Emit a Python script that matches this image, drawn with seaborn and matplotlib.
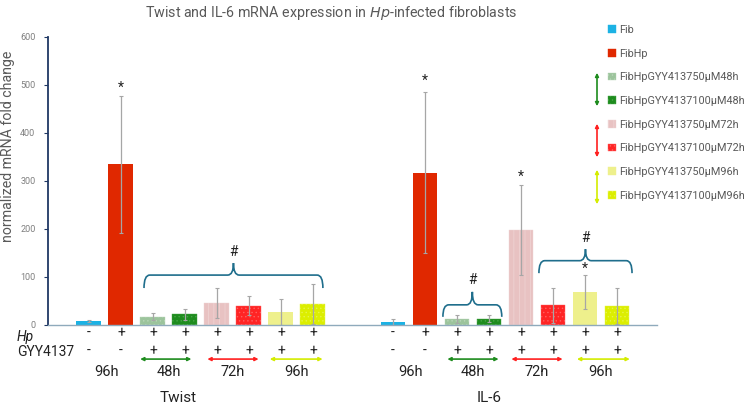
import seaborn as sns
import matplotlib.pyplot as plt
import pandas as pd
from matplotlib.path import Path
from matplotlib.patches import PathPatch, Patch, FancyArrowPatch

# data
genes = ['Twist', 'IL-6']
conditions = ['Fib', 'FibHp',
              'FibHpGYY413750μM48h', 'FibHpGYY4137100μM48h',
              'FibHpGYY413750μM72h', 'FibHpGYY4137100μM72h',
              'FibHpGYY413750μM96h', 'FibHpGYY4137100μM96h']
twist_mean = [9, 335, 17, 22, 46, 40, 27, 44]
twist_err = [2, 143, 7, 11, 31, 20, 27, 41]
il6_mean = [6, 317, 12, 13, 198, 41, 69, 40]
il6_err = [6, 168, 8, 7, 94, 36, 35, 37]
hp_row = ['-', '+', '+', '+', '+', '+', '+', '+']
gyy_row = ['-', '-', '+', '+', '+', '+', '+', '+']
time_labels = ['96h', '48h', '72h', '96h']

colors = ['#1cb2e4', '#e02800', '#9cc49c', '#1e8c1e',
          '#e8c2c2', '#ff2424', '#eef08c', '#dcee00']
hatches = [None, None, '....', '....', '|||', '....', None, '....']
hatch_cols = [None, None, '#b8d6b8', '#46a446', '#f0d6d6', '#ff6060', None, '#e6f44a']

GAP = 9.5
rows = []
for g, (m, e) in enumerate([(twist_mean, twist_err), (il6_mean, il6_err)]):
    for i, c in enumerate(conditions):
        rows.append({'gene': genes[g], 'cond': c, 'pos': i + g * GAP, 'value': m[i], 'err': e[i]})
df = pd.DataFrame(rows)

sns.set_style('white')
plt.rcParams['font.family'] = ['Roboto', 'DejaVu Sans']
plt.rcParams['hatch.linewidth'] = 0.5

fig = plt.figure(figsize=(7.56, 4.08), dpi=100)
ax = fig.add_axes([48 / 756, 83 / 408, 609 / 756, 288 / 408])

sns.barplot(data=df, x='pos', y='value', hue='cond', hue_order=conditions,
            palette=colors, native_scale=True, dodge=False, width=0.78,
            saturation=1, legend=False, ax=ax, errorbar=None)

# patterns
pos2cond = {p: conditions.index(c) for p, c in zip(df['pos'], df['cond'])}
for bar in ax.patches:
    cx = round((bar.get_x() + bar.get_width() / 2) * 2) / 2
    k = pos2cond.get(cx)
    if k is None:
        continue
    if hatches[k]:
        bar.set_hatch(hatches[k])
        bar.set_edgecolor(hatch_cols[k])
        bar.set_linewidth(0.3)
    else:
        bar.set_linewidth(0)

ax.errorbar(df['pos'], df['value'], yerr=df['err'], fmt='none',
            ecolor='#a6a6a6', elinewidth=0.9, capsize=1.5, capthick=0.8)

ax.set_xlim(-1.28, 17.75)
ax.set_ylim(0, 600)
ax.set_yticks(range(0, 601, 100))
ax.set_xticks([])
ax.set_xlabel('')
ax.set_ylabel('normalized mRNA fold change', fontsize=10.2, color='#595959')
ax.yaxis.set_label_coords(-0.055, 0.62)
ax.tick_params(axis='y', labelsize=6.5, labelcolor='#7f7f7f', length=3, width=0.8,
               color='#203864', left=True, pad=6)
for s in ['top', 'right']:
    ax.spines[s].set_visible(False)
ax.spines['left'].set_color('#203864')
ax.spines['left'].set_linewidth(1.3)
ax.spines['bottom'].set_color('#8faabc')
ax.spines['bottom'].set_linewidth(1.0)

fig.text(331 / 756, 1 - 13 / 408, 'Twist and IL-6 mRNA expression in $\\it{Hp}$-infected fibroblasts',
         ha='center', va='center', fontsize=10.3, color='#595959')

# significance marks
star_kw = dict(ha='center', va='center', fontsize=10, color='#222222')
for x, y in [(1, 495), (1 + GAP, 508), (4 + GAP, 308), (6 + GAP, 118)]:
    ax.text(x, y, '*', **star_kw)


def brace(x0, x1, y_end, y_line, y_peak, r=0.18):
    xm = (x0 + x1) / 2
    verts = [(x0, y_end), (x0, y_line), (x0 + r, y_line), (xm - r, y_line), (xm, y_line),
             (xm, y_peak), (xm, y_line), (xm + r, y_line), (x1 - r, y_line), (x1, y_line), (x1, y_end)]
    codes = [Path.MOVETO, Path.CURVE3, Path.CURVE3, Path.LINETO, Path.CURVE3, Path.CURVE3,
             Path.CURVE3, Path.CURVE3, Path.LINETO, Path.CURVE3, Path.CURVE3]
    ax.add_patch(PathPatch(Path(verts, codes), fill=False, edgecolor='#1f6e8c', lw=1.2))
    ax.text(xm, y_peak + 24, '#', ha='center', va='center', fontsize=10, color='#222222')


brace(1.72, 7.31, 77, 104, 129)
brace(11.06, 12.9, 17, 42, 69)
brace(14.06, 16.97, 108, 134, 158)

# rows below the axis
txt_kw = dict(ha='center', va='center', fontsize=10, color='#222222', clip_on=False)
ax.text(-2.25, -26, 'Hp', ha='left', va='center', fontsize=10, style='italic', color='#222222')
ax.text(-2.25, -56, 'GYY4137', ha='left', va='center', fontsize=10, color='#222222')
for g in range(2):
    for i in range(8):
        ax.text(i + g * GAP, -17, hp_row[i], **txt_kw)
        ax.text(i + g * GAP, -54, gyy_row[i], **txt_kw)
    for t, x in zip(time_labels, [0.55, 2.5, 4.5, 6.5]):
        ax.text(x + g * GAP, -98, t, ha='center', va='center', fontsize=10.5, color='#222222')

arrow_cols = ['#1e8c1e', '#ff2020', '#d4ec00']
arrow_x = [(1.6, 3.2), (3.7, 5.3), (5.65, 7.3), (11.2, 12.8), (13.2, 14.8), (15.25, 16.9)]
for j, (x0, x1) in enumerate(arrow_x):
    ax.annotate('', xy=(x1, -71), xytext=(x0, -71), annotation_clip=False,
                arrowprops=dict(arrowstyle='<|-|>', color=arrow_cols[j % 3], lw=1.2,
                                mutation_scale=5, shrinkA=0, shrinkB=0))

ax.text(2.8, -152, 'Twist', ha='center', va='center', fontsize=11, color='#222222')
ax.text(12.5, -152, 'IL-6', ha='center', va='center', fontsize=11, color='#222222')

# legend
handles = []
for k in range(8):
    handles.append(Patch(facecolor=colors[k], hatch=hatches[k],
                         edgecolor=hatch_cols[k] if hatches[k] else colors[k], lw=0.3))
fig.legend(handles, conditions, loc='upper left', bbox_to_anchor=(608 / 756, 1 - 25 / 408),
           frameon=False, fontsize=7.8, labelcolor='#595959', handlelength=0.7, handleheight=0.7,
           handletextpad=0.35, labelspacing=1.26, borderaxespad=0, borderpad=0)

for (y0, y1), c in zip([(70, 109), (121, 160), (167, 207)], arrow_cols):
    fig.add_artist(FancyArrowPatch(
        (597 / 756, 1 - y0 / 408), (597 / 756, 1 - y1 / 408), transform=fig.transFigure,
        arrowstyle='<|-|>', color=c, lw=1.2, mutation_scale=5))

plt.savefig('out.png', dpi=100)
